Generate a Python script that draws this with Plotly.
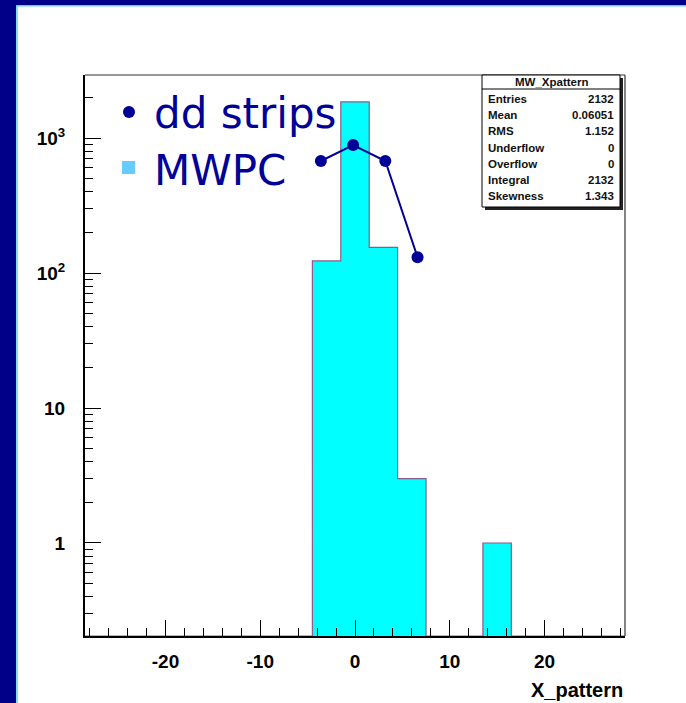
import plotly.graph_objects as go

# ---------------- data ----------------
bin_edges_start = -28.5
bin_width = 3.0
mwpc_counts = [0, 0, 0, 0, 0, 0, 0, 0, 123, 1850, 155, 3, 0, 0, 1, 0, 0, 0, 0]
dd_x = [-3.6, -0.2, 3.2, 6.6]
dd_y = [676, 887, 676, 131]
stats_labels = ["Entries", "Mean", "RMS", "Underflow", "Overflow", "Integral", "Skewness"]
stats_values = ["2132", "0.06051", "1.152", "0", "0", "2132", "1.343"]
stats_title = "MW_Xpattern"
y_tickvals = [1, 10, 100, 1000]
y_ticktext = ["1", "10", "10<sup>2</sup>", "10<sup>3</sup>"]
x_tickvals = [-20, -10, 0, 10, 20]
x_ticktext = ["-20", "-10", "0", "10", "20"]

# ---------------- layout geometry ----------------
W, H = 686, 703
L, R, T, B = 85, 625, 75, 636
YMIN_LOG, YMAX_LOG = -0.689, 3.467
ymin_val = 10 ** YMIN_LOG


def px2x(px):
    return (px - L) / (R - L)


def py2y(py):
    return (B - py) / (B - T)


# step outline of histogram (ROOT style)
xs, ys = [], []
for i, c in enumerate(mwpc_counts):
    x0 = bin_edges_start + i * bin_width
    x1 = x0 + bin_width
    v = c if c > 0 else ymin_val
    xs += [x0, x1]
    ys += [v, v]
poly_x = [xs[0]] + xs + [xs[-1]]
poly_y = [ymin_val] + ys + [ymin_val]

fig = go.Figure()
fig.add_trace(go.Scatter(
    x=poly_x, y=poly_y, mode="lines", fill="toself",
    fillcolor="#00FFFF", line=dict(color="#8A5C8E", width=1.2),
    hoverinfo="skip", showlegend=False,
))
fig.add_trace(go.Scatter(
    x=dd_x, y=dd_y, mode="lines+markers",
    line=dict(color="#000099", width=2),
    marker=dict(color="#000099", size=12),
    showlegend=False,
))

shapes = []
# navy slide border (left and top)
shapes.append(dict(type="rect", xref="paper", yref="paper",
                   x0=px2x(0), x1=px2x(16), y0=py2y(H), y1=py2y(0),
                   fillcolor="#000088", line=dict(width=0), layer="above"))
shapes.append(dict(type="rect", xref="paper", yref="paper",
                   x0=px2x(0), x1=px2x(W), y0=py2y(5), y1=py2y(0),
                   fillcolor="#000088", line=dict(width=0), layer="above"))
shapes.append(dict(type="line", xref="paper", yref="paper",
                   x0=px2x(17), x1=px2x(17), y0=py2y(H), y1=py2y(5.5),
                   line=dict(color="#66CCFF", width=1.5), layer="above"))
shapes.append(dict(type="line", xref="paper", yref="paper",
                   x0=px2x(16), x1=px2x(W), y0=py2y(5.8), y1=py2y(5.8),
                   line=dict(color="#66CCFF", width=1.5), layer="above"))
# frame (top and right)
shapes.append(dict(type="line", xref="paper", yref="paper",
                   x0=0, x1=1, y0=1, y1=1, line=dict(color="#333333", width=1.2), layer="above"))
shapes.append(dict(type="line", xref="paper", yref="paper",
                   x0=1, x1=1, y0=0, y1=1, line=dict(color="#333333", width=1.2), layer="above"))

# stats box
SB_L, SB_R, SB_T, SB_B = 482, 620, 75, 207
shapes.append(dict(type="rect", xref="paper", yref="paper",
                   x0=px2x(SB_L + 3), x1=px2x(SB_R + 3), y0=py2y(SB_B + 3), y1=py2y(SB_T + 3),
                   fillcolor="#222222", line=dict(width=0), layer="above"))
shapes.append(dict(type="rect", xref="paper", yref="paper",
                   x0=px2x(SB_L), x1=px2x(SB_R), y0=py2y(SB_B), y1=py2y(SB_T),
                   fillcolor="white", line=dict(color="black", width=1), layer="above"))
shapes.append(dict(type="line", xref="paper", yref="paper",
                   x0=px2x(SB_L), x1=px2x(SB_R), y0=py2y(89), y1=py2y(89),
                   line=dict(color="black", width=1), layer="above"))

# legend symbols
shapes.append(dict(type="circle", xref="paper", yref="paper",
                   x0=px2x(123), x1=px2x(135), y0=py2y(118), y1=py2y(106),
                   fillcolor="#000099", line=dict(width=0), layer="above"))
shapes.append(dict(type="rect", xref="paper", yref="paper",
                   x0=px2x(122), x1=px2x(135), y0=py2y(174), y1=py2y(161),
                   fillcolor="#66CCFF", line=dict(width=0), layer="above"))

annotations = []
stat_font = dict(family="Liberation Sans", size=11.5, color="#111111", weight="bold")
annotations.append(dict(text=stats_title, xref="paper", yref="paper",
                        x=px2x((SB_L + SB_R) / 2), y=py2y(82), xanchor="center", yanchor="middle",
                        showarrow=False, font=stat_font))
row_y0, row_dy = 99, 16.2
for i, (lab, val) in enumerate(zip(stats_labels, stats_values)):
    yy = py2y(row_y0 + i * row_dy)
    annotations.append(dict(text=lab, xref="paper", yref="paper", x=px2x(SB_L + 4), y=yy,
                            xanchor="left", yanchor="middle", showarrow=False, font=stat_font))
    annotations.append(dict(text=val, xref="paper", yref="paper", x=px2x(SB_R - 4), y=yy,
                            xanchor="right", yanchor="middle", showarrow=False, font=stat_font))

leg_font = dict(family="DejaVu Sans", size=42, color="#000099")
annotations.append(dict(text="dd strips", xref="paper", yref="paper", x=px2x(152), y=py2y(113),
                        xanchor="left", yanchor="middle", showarrow=False, font=leg_font))
annotations.append(dict(text="MWPC", xref="paper", yref="paper", x=px2x(152), y=py2y(170),
                        xanchor="left", yanchor="middle", showarrow=False, font=leg_font))
annotations.append(dict(text="X_pattern", xref="paper", yref="paper", x=1, y=py2y(690),
                        xanchor="right", yanchor="middle", showarrow=False,
                        font=dict(family="Liberation Sans", size=20, color="black", weight="bold")))

fig.update_layout(
    width=W, height=H,
    margin=dict(l=L, r=W - R, t=T, b=H - B, pad=0),
    paper_bgcolor="white", plot_bgcolor="white",
    shapes=shapes, annotations=annotations,
    showlegend=False,
    xaxis=dict(
        range=[bin_edges_start, bin_edges_start + bin_width * len(mwpc_counts)],
        tickvals=x_tickvals, ticktext=x_ticktext,
        ticks="inside", ticklen=16, tickwidth=1.2, tickcolor="black",
        showline=True, linecolor="black", linewidth=2, showgrid=False, zeroline=False,
        tickfont=dict(family="Liberation Sans", size=19, color="black", weight="bold"),
        ticklabelstandoff=7,
        minor=dict(ticks="inside", ticklen=8, dtick=2, tick0=0, tickcolor="black", tickwidth=1.2),
    ),
    yaxis=dict(
        type="log", range=[YMIN_LOG, YMAX_LOG],
        tickvals=y_tickvals, ticktext=y_ticktext,
        ticks="inside", ticklen=16, tickwidth=1.2, tickcolor="black",
        showline=True, linecolor="black", linewidth=2, showgrid=False, zeroline=False,
        tickfont=dict(family="Liberation Sans", size=19, color="black", weight="bold"),
        ticklabelstandoff=14,
        minor=dict(ticks="inside", ticklen=8, dtick="D1", tickcolor="black", tickwidth=1.2),
    ),
)

fig.write_html("out.html")
